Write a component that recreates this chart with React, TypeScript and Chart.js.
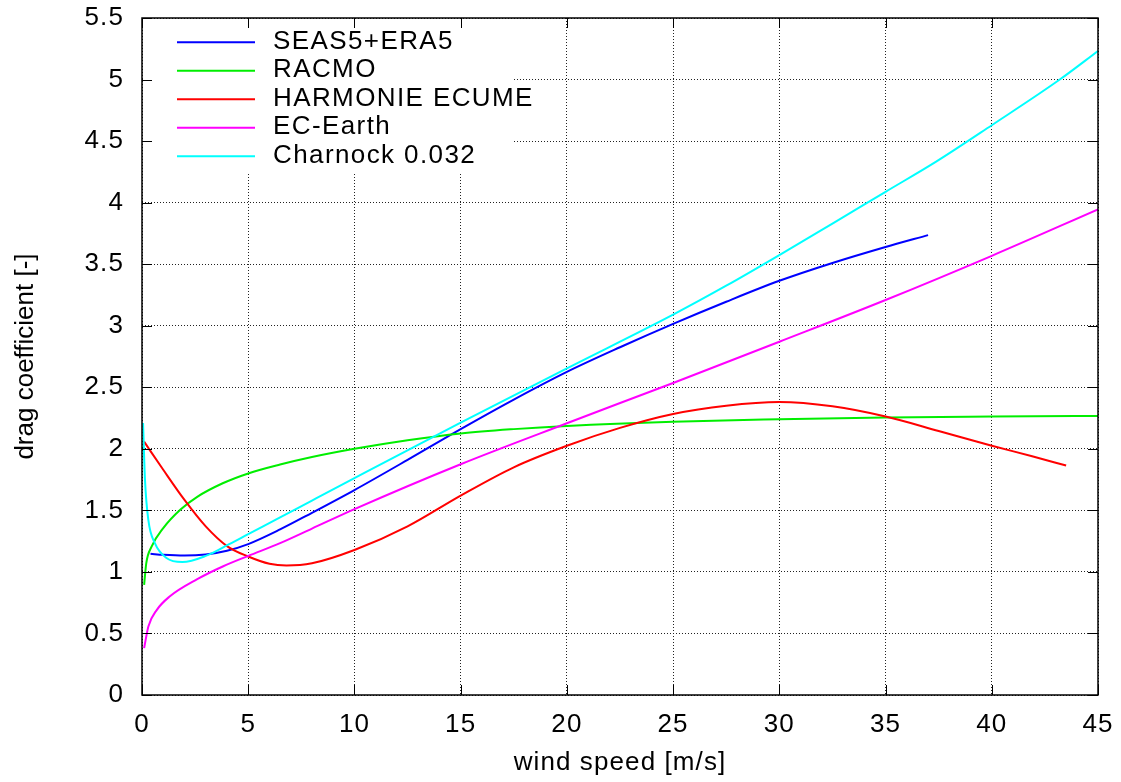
import React, { useEffect, useRef } from 'react';
import { Chart, registerables } from 'chart.js';

Chart.register(...registerables);

// Axis ticks
const xTickValues = [0, 5, 10, 15, 20, 25, 30, 35, 40, 45];
const xTickLabels = ['0', '5', '10', '15', '20', '25', '30', '35', '40', '45'];
const yTickValues = [0, 0.5, 1, 1.5, 2, 2.5, 3, 3.5, 4, 4.5, 5, 5.5];
const yTickLabels = ['0', '0.5', '1', '1.5', '2', '2.5', '3', '3.5', '4', '4.5', '5', '5.5'];

// SEAS5+ERA5
const seasX = [0.4, 1, 2, 3, 4, 5, 6.5, 8, 10, 12.5, 15, 17.5, 20, 22.5, 25, 27.5, 30, 32.5, 35, 37];
const seasY = [1.147, 1.139, 1.133, 1.142, 1.172, 1.226, 1.345, 1.48, 1.665, 1.91, 2.16, 2.4, 2.625, 2.825, 3.015, 3.195, 3.365, 3.51, 3.64, 3.736];

// RACMO
const racmoX = [0.1, 0.2, 0.45, 1, 1.8, 2.6, 3.8, 5, 6.5, 8, 10, 12.5, 15, 17.5, 20, 25, 30, 35, 40, 45];
const racmoY = [0.895, 1.07, 1.205, 1.356, 1.505, 1.61, 1.72, 1.8, 1.872, 1.933, 2.0, 2.07, 2.125, 2.16, 2.186, 2.22, 2.24, 2.255, 2.262, 2.267];

// HARMONIE ECUME
const harmX = [0.1, 1, 2, 3, 4, 5, 6, 6.8, 8, 10, 12.5, 15, 17.5, 20, 22.5, 25, 27.5, 30, 32.5, 35, 37.5, 40, 41.9, 43.5];
const harmY = [2.058, 1.83, 1.585, 1.37, 1.21, 1.125, 1.066, 1.052, 1.07, 1.178, 1.37, 1.62, 1.85, 2.025, 2.17, 2.283, 2.35, 2.38, 2.345, 2.262, 2.145, 2.025, 1.94, 1.864];

// EC-Earth
const ecX = [0.1, 0.3, 0.7, 1.3, 2.6, 3.8, 5, 6.5, 8, 10, 15, 20, 25, 30, 35, 40, 45];
const ecY = [0.381, 0.557, 0.692, 0.8, 0.941, 1.044, 1.13, 1.234, 1.352, 1.51, 1.875, 2.208, 2.535, 2.87, 3.209, 3.568, 3.945];

// Charnock 0.032
const charX = [0.05, 0.14, 0.3, 0.6, 1.15, 1.9, 3, 4.1, 5, 6.5, 8, 10, 15, 20, 25, 27.5, 30, 32.5, 35, 37.4, 40, 43.2, 45];
const charY = [2.21, 1.75, 1.42, 1.235, 1.113, 1.08, 1.13, 1.225, 1.307, 1.443, 1.58, 1.762, 2.213, 2.654, 3.09, 3.325, 3.574, 3.83, 4.088, 4.335, 4.629, 5.0, 5.232];

const seriesNames = ['SEAS5+ERA5', 'RACMO', 'HARMONIE ECUME', 'EC-Earth', 'Charnock 0.032'];
const seriesColors = ['#0000ff', '#00ee00', '#ff0000', '#ff00ff', '#00ffff'];
const seriesX = [seasX, racmoX, harmX, ecX, charX];
const seriesY = [seasY, racmoY, harmY, ecY, charY];

const FONT_FAMILY = "'Liberation Sans', Arial, sans-serif";
const FONT_SIZE = 26;

const toPoints = (xs: number[], ys: number[]) => xs.map((x, i) => ({ x, y: ys[i] }));

// Opaque key box inside the plot, the key itself, frame and inward tick marks
const framePlugin = {
  id: 'gnuFrame',
  beforeDraw(chart: any) {
    const ctx = chart.ctx;
    ctx.letterSpacing = '1.1px';
    const yScale = chart.scales.y;
    if (yScale && !yScale.__plainTitle) {
      const orig = yScale.drawTitle;
      yScale.drawTitle = function (...args: any[]) {
        const prev = ctx.letterSpacing;
        ctx.letterSpacing = '0px';
        orig.apply(this, args);
        ctx.letterSpacing = prev;
      };
      yScale.__plainTitle = true;
    }
  },
  beforeDatasetsDraw(chart: any) {
    const { ctx, chartArea } = chart;
    ctx.save();
    ctx.fillStyle = '#ffffff';
    ctx.fillRect(chartArea.left + 2, chartArea.top + 1, 369, 153);
    ctx.restore();
  },
  afterDraw(chart: any) {
    const { ctx, chartArea } = chart;
    const { left, right, top, bottom } = chartArea;
    const xs = chart.scales.x;
    const ys = chart.scales.y;
    ctx.save();

    // key
    ctx.font = `${FONT_SIZE}px ${FONT_FAMILY}`;
    ctx.letterSpacing = '1.4px';
    ctx.textBaseline = 'middle';
    ctx.textAlign = 'left';
    chart.data.datasets.forEach((ds: any, i: number) => {
      const cy = top + 24.3 + i * 28.5;
      ctx.strokeStyle = ds.borderColor;
      ctx.lineWidth = 2;
      ctx.beginPath();
      ctx.moveTo(left + 35, cy);
      ctx.lineTo(left + 113, cy);
      ctx.stroke();
      ctx.fillStyle = '#000';
      ctx.fillText(ds.label, left + 131, cy - 0.5);
    });

    // frame
    ctx.strokeStyle = '#000';
    ctx.lineWidth = 1.5;
    ctx.strokeRect(left, top, right - left, bottom - top);

    // tick marks pointing inwards
    const len = 10;
    ctx.lineWidth = 1;
    ctx.beginPath();
    xTickValues.forEach((v) => {
      const px = Math.round(xs.getPixelForValue(v)) + 0.5;
      ctx.moveTo(px, bottom);
      ctx.lineTo(px, bottom - len);
      ctx.moveTo(px, top);
      ctx.lineTo(px, top + len);
    });
    yTickValues.forEach((v) => {
      const py = Math.round(ys.getPixelForValue(v)) + 0.5;
      ctx.moveTo(left, py);
      ctx.lineTo(left + len, py);
      ctx.moveTo(right, py);
      ctx.lineTo(right - len, py);
    });
    ctx.stroke();
    ctx.restore();
  },
};

export default function App() {
  const canvasRef = useRef<HTMLCanvasElement | null>(null);

  useEffect(() => {
    if (!canvasRef.current) return;
    const tickFont = { family: FONT_FAMILY, size: FONT_SIZE };
    const chart = new Chart(canvasRef.current, {
      type: 'line',
      data: {
        datasets: seriesNames.map((name, i) => ({
          label: name,
          data: toPoints(seriesX[i], seriesY[i]),
          borderColor: seriesColors[i],
          backgroundColor: seriesColors[i],
          borderWidth: 2,
          pointRadius: 0,
          fill: false,
          cubicInterpolationMode: 'monotone' as const,
          order: seriesNames.length - i,
        })),
      },
      options: {
        animation: false,
        responsive: false,
        events: [],
        layout: { padding: { top: 18, right: 23, left: 0, bottom: 0 } },
        plugins: {
          legend: { display: false },
          tooltip: { enabled: false },
        },
        scales: {
          x: {
            type: 'linear',
            min: 0,
            max: 45,
            afterBuildTicks: (scale: any) => {
              scale.ticks = xTickValues.map((value) => ({ value }));
            },
            afterFit: (scale: any) => {
              scale.height = 87;
              scale.paddingLeft = 0;
              scale.paddingRight = 0;
            },
            ticks: {
              autoSkip: false,
              maxRotation: 0,
              padding: 14,
              color: '#000',
              font: tickFont,
              callback: (_v: any, i: number) => xTickLabels[i],
            },
            grid: { drawTicks: false, color: '#222', lineWidth: 1, borderDash: [1, 2] } as any,
            border: { display: false, dash: [1, 2] },
            title: {
              display: true,
              text: 'wind speed [m/s]',
              color: '#000',
              font: { family: FONT_FAMILY, size: FONT_SIZE, lineHeight: 1 },
              padding: { top: 0, bottom: 6 },
            },
          },
          y: {
            type: 'linear',
            min: 0,
            max: 5.5,
            afterBuildTicks: (scale: any) => {
              scale.ticks = yTickValues.map((value) => ({ value }));
            },
            afterFit: (scale: any) => {
              scale.width = 142;
              scale.paddingTop = 0;
              scale.paddingBottom = 0;
            },
            ticks: {
              autoSkip: false,
              padding: 18,
              color: '#000',
              font: tickFont,
              callback: (_v: any, i: number) => yTickLabels[i],
            },
            grid: { drawTicks: false, color: '#222', lineWidth: 1, borderDash: [1, 2] } as any,
            border: { display: false, dash: [1, 2] },
            title: {
              display: true,
              text: 'drag coefficient [-]',
              color: '#000',
              font: { family: FONT_FAMILY, size: FONT_SIZE, lineHeight: 1 },
              padding: { top: 13, bottom: 0 },
            },
          },
        },
      },
      plugins: [framePlugin],
    } as any);
    return () => chart.destroy();
  }, []);

  return (
    <div style={{ position: 'fixed', left: 0, top: 0, width: 1121, height: 782, background: '#fff' }}>
      <canvas ref={canvasRef} width={1121} height={782} style={{ display: 'block' }} />
    </div>
  );
}
